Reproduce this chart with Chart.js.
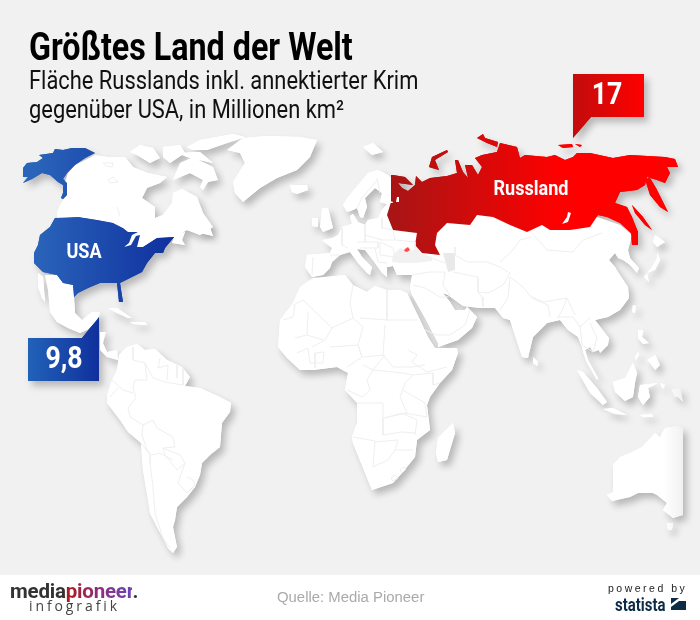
<!DOCTYPE html>
<html lang="de">
<head>
<meta charset="utf-8">
<title>Größtes Land der Welt</title>
<script src="https://cdn.jsdelivr.net/npm/chart.js@4/dist/chart.umd.min.js"></script>
<style>
  html, body { margin: 0; padding: 0; background: #f1f1f1; }
  #page { position: relative; width: 700px; height: 620px; overflow: hidden; font-family: Roboto, sans-serif; }
  #footer { position: absolute; left: 0; top: 575px; width: 700px; height: 45px; background: #fff; }
  #myChart { position: absolute; left: 0; top: 0; }
  .t { position: absolute; white-space: nowrap; transform-origin: 0 0; color: #000; }
  #title { left: 29px; top: 24px; font-size: 39px; font-weight: 700; line-height: 46px; transform: scaleX(.827); }
  .sub { left: 29px; font-size: 25.5px; line-height: 30px; transform: scaleX(.858); color: #111; }
  #sub1 { top: 65px; }
  #sub2 { top: 94px; }
  #source { left: 277px; top: 589px; font: 14.9px "Liberation Sans", sans-serif; color: #aaa; }
  #logo { left: 10px; top: 578px; font: 700 20.5px/26px Roboto, sans-serif; color: #333; letter-spacing: -.2px; }
  #logo b { background: linear-gradient(90deg, #b01818, #8a2f86 55%, #6a45b0); -webkit-background-clip: text; background-clip: text; color: transparent; font-weight: 700; }
  #logoSub { left: 29px; top: 597px; font: 14px/18px "Open Sans", sans-serif; color: #444; letter-spacing: 2.9px; }
  #powered { left: 608px; top: 582px; font: 10.5px/13px "Liberation Sans", sans-serif; color: #222; letter-spacing: 2.5px; }
  #statista { left: 615px; top: 595px; font: 700 18px/20px Roboto, sans-serif; color: #0d2b45; transform: scaleX(.83); }
  #statistaIcon { position: absolute; left: 671px; top: 598px; }
</style>
</head>
<body>
<div id="page">
  <div id="footer"></div>
  <canvas id="myChart" width="700" height="620"></canvas>
  <div class="t" id="title">Größtes Land der Welt</div>
  <div class="t sub" id="sub1">Fläche Russlands inkl. annektierter Krim</div>
  <div class="t sub" id="sub2">gegenüber USA, in Millionen km²</div>
  <div class="t" id="logo">media<b>pioneer</b>.</div>
  <div class="t" id="logoSub">infografik</div>
  <div class="t" id="source">Quelle: Media Pioneer</div>
  <div class="t" id="powered">powered by</div>
  <div class="t" id="statista">statista</div>
  <svg id="statistaIcon" width="15" height="12"><rect width="15" height="12" fill="#0d2b45"/><path d="M0 9 L8 3 L15 3 L15 0 L8 0 L0 6Z" fill="#fff"/></svg>
</div>
<script>
// values from the callouts, million km2
const countries = ['USA', 'Russland'];
const areaValues = [9.8, 17];

// outlines, in map units (700 x 620)
const alaska = [[23,168],[27,163],[37,162],[43,158],[39,155],[53,153],[55,149],[63,150],[72,148],[85,148],[95,153],[85,158],[75,165],[67,173],[63,179],[67,183],[67,195],[63,199],[61,198],[63,193],[63,185],[58,182],[50,175],[42,173],[32,179],[23,183],[28,177],[23,177]];
const usa = [[55,218],[78,217],[97,220],[113,223],[123,228],[128,232],[138,232],[132,235],[129,243],[124,247],[131,245],[136,236],[140,235],[137,247],[143,247],[157,238],[174,237],[165,248],[163,253],[155,253],[147,263],[142,272],[132,277],[120,283],[123,302],[119,302],[117,283],[110,283],[100,283],[88,288],[78,293],[74,297],[73,285],[63,283],[57,275],[43,272],[34,263],[34,253],[38,245],[40,235],[50,227]];
const canada = [[57,213],[60,205],[63,200],[67,195],[65,182],[68,173],[75,165],[95,155],[107,157],[125,157],[133,167],[148,173],[167,177],[160,183],[147,188],[142,198],[155,207],[155,218],[163,215],[172,203],[173,193],[182,189],[197,197],[203,213],[213,227],[200,235],[187,230],[174,237],[157,238],[143,247],[124,249],[128,235],[113,223],[97,220],[78,217],[57,219]];
const novaScotia = [[175,235],[185,232],[182,240],[185,245],[172,243]];
const newfoundland = [[200,233],[208,222],[213,236]];
const baffin = [[180,163],[193,157],[203,162],[213,167],[218,180],[208,182],[203,190],[200,187],[203,180],[190,173],[173,180]];
const victoria = [[130,152],[140,145],[153,148],[160,158],[150,163],[137,155]];
const banks = [[163,147],[180,145],[185,153],[170,163],[163,157]];
const ellesmere = [[200,140],[233,134],[245,137],[227,143],[207,150],[193,150],[187,147]];
const devon = [[177,153],[200,152],[213,163],[190,158]];
const greenland = [[227,150],[243,138],[267,136],[300,137],[317,140],[310,157],[297,170],[277,178],[260,188],[243,202],[235,193],[233,182],[245,163],[240,153]];
const iceland = [[290,185],[307,185],[308,190],[297,194],[292,192]];
const mexico = [[45,275],[57,275],[63,283],[73,285],[74,297],[75,313],[82,320],[92,312],[100,312],[98,320],[87,330],[80,333],[68,328],[57,322],[50,312],[48,290]];
const baja = [[38,273],[43,277],[45,302],[42,298],[38,287]];
const centralAmerica = [[100,332],[106,332],[103,343],[107,352],[117,350],[118,360],[107,357],[100,350]];
const cuba = [[108,308],[117,308],[132,318],[128,318],[117,313]];
const hispaniola = [[130,322],[145,322],[147,325],[133,324]];
const southAmerica = [[119,355],[127,347],[137,344],[145,350],[155,349],[167,360],[182,367],[190,377],[185,386],[200,388],[220,397],[231,403],[230,412],[222,423],[220,447],[210,455],[202,463],[200,475],[195,487],[187,497],[177,507],[175,520],[173,527],[177,547],[173,553],[168,548],[163,538],[157,527],[150,513],[148,500],[143,470],[141,443],[128,432],[120,420],[107,403],[107,395],[112,380],[117,370]];
const africa = [[300,287],[313,278],[345,275],[353,285],[367,292],[375,286],[387,290],[400,290],[407,293],[420,320],[428,337],[435,348],[457,348],[458,353],[452,370],[440,383],[430,397],[427,405],[430,430],[417,440],[415,457],[402,473],[393,483],[372,490],[365,473],[353,443],[352,437],[357,423],[357,403],[345,390],[348,373],[337,367],[313,370],[300,370],[287,358],[278,347],[280,320],[293,303]];
const madagascar = [[453,423],[455,433],[447,460],[438,462],[436,453],[438,438]];
const eurasia = [[412,295],[425,318],[438,343],[438,347],[458,340],[472,328],[477,317],[467,307],[465,310],[455,310],[450,302],[443,293],[448,295],[463,306],[480,308],[495,308],[503,318],[510,320],[522,357],[528,358],[533,337],[547,323],[560,320],[568,330],[578,337],[582,347],[583,352],[587,363],[597,380],[598,378],[588,360],[585,350],[590,347],[593,352],[599,350],[600,353],[608,345],[609,338],[595,320],[608,317],[620,310],[629,298],[628,287],[618,272],[615,267],[609,260],[615,253],[618,258],[623,260],[630,265],[637,273],[639,268],[630,258],[628,250],[630,243],[632,235],[620,225],[600,218],[540,200],[420,200],[400,190],[391,178],[388,175],[378,170],[368,173],[358,185],[348,197],[343,205],[347,212],[353,210],[357,208],[360,217],[363,218],[367,207],[365,198],[375,188],[382,193],[380,202],[387,204],[382,210],[378,218],[368,220],[365,225],[358,222],[353,214],[350,216],[352,224],[342,227],[338,235],[332,238],[322,240],[332,248],[330,253],[307,255],[305,267],[312,277],[323,275],[330,268],[332,262],[340,255],[350,252],[358,263],[367,273],[370,275],[372,267],[362,257],[357,249],[365,250],[375,263],[382,273],[387,277],[387,267],[393,266],[397,275],[412,275],[410,288]];
const britain = [[322,208],[328,208],[333,228],[323,232],[320,227]];
const ireland = [[312,218],[318,218],[318,227],[312,226]];
const svalbard = [[363,147],[373,143],[383,152],[372,155]];
const hokkaido = [[655,235],[665,242],[657,247],[653,242]];
const honshu = [[657,252],[660,260],[655,270],[647,273],[649,282],[644,277],[652,267],[657,258]];
const taiwan = [[633,305],[636,306],[635,313],[632,312]];
const luzon = [[638,330],[643,330],[642,337],[649,343],[643,344],[638,338]];
const sriLanka = [[533,357],[538,362],[537,366],[533,363]];
const sumatra = [[577,370],[583,372],[597,388],[607,402],[603,405],[590,393]];
const java = [[603,409],[613,408],[627,415],[615,414]];
const borneo = [[613,382],[625,378],[633,363],[637,373],[635,383],[633,397],[625,401],[615,392]];
const sulawesi = [[640,385],[658,383],[648,388],[650,397],[643,405],[638,397]];
const mindanao = [[647,360],[655,355],[660,365],[655,370],[650,363]];
const palawan = [[635,357],[638,352],[639,355],[636,360]];
const halmahera = [[660,383],[665,385],[663,389]];
const sunda = [[640,415],[652,414],[653,417],[643,417]];
const newGuinea = [[672,390],[680,388],[683,402],[678,397],[675,397]];
const australia = [[613,465],[620,457],[632,452],[642,447],[655,433],[660,437],[665,428],[677,426],[683,428],[683,515],[673,518],[663,510],[667,503],[657,495],[653,493],[638,493],[630,497],[612,501],[607,495],[613,492]];
const tasmania = [[667,523],[673,523],[672,530],[668,530]];
const blackSea = [[392,262],[393,255],[400,248],[410,252],[417,247],[420,253],[432,257],[432,261],[415,263],[400,263]];
const caspian = [[443,253],[455,253],[455,270],[448,272]];
const russia = [[391,175],[393,175],[405,177],[413,185],[398,183],[402,188],[408,191],[415,185],[416,176],[422,182],[430,178],[447,176],[457,173],[455,160],[458,160],[463,172],[468,178],[465,165],[472,165],[478,175],[482,167],[475,158],[482,155],[497,152],[500,143],[517,147],[520,158],[525,155],[547,157],[555,155],[565,160],[573,157],[577,153],[590,153],[613,158],[630,155],[665,157],[675,159],[678,167],[667,167],[670,173],[665,183],[657,180],[647,177],[645,185],[637,190],[620,192],[615,203],[627,207],[632,217],[638,232],[638,245],[632,245],[631,233],[620,223],[607,217],[598,215],[590,227],[570,230],[550,230],[542,225],[527,232],[510,225],[493,217],[477,215],[470,225],[447,223],[437,233],[435,245],[440,255],[422,253],[415,245],[417,233],[393,230],[387,215],[391,202]];
const kamchatka = [[645,179],[650,178],[656,188],[668,212],[660,207],[650,195]];
const sakhalin = [[632,205],[643,217],[652,230],[645,225],[635,213]];
const novayaZemlya = [[429,167],[432,157],[447,150],[448,152],[435,160],[439,170],[432,168]];
const severnaya = [[477,138],[483,134],[485,138],[498,142],[497,147],[487,143]];
const newSiberia1 = [[558,145],[572,144],[573,147],[563,148]];
const newSiberia2 = [[575,144],[582,145],[580,147]];
const baikal = [[568,212],[571,213],[568,222],[562,224],[567,217]];
const ladoga = [[397,197],[399,197],[399,202],[396,202]];
const onega = [[392,201],[393,203],[390,203]];
const crimea = [[405,249],[408,247],[410,250],[407,252],[404,251]];
const calloutRussia = [[573,74],[644,74],[644,117],[591,117],[573,138]];
const calloutUsa = [[28,338],[82,338],[99,317],[99,381],[28,381]];

// country borders, same map units
const borders = [
  [[133,347],[133,360],[145,363],[147,380],[135,380],[133,388],[136,398],[128,408],[130,417],[140,423],[143,425],[153,420],[157,428],[173,437],[175,447],[163,448],[180,455],[185,463],[180,477]],
  [[112,380],[123,390],[133,393]], [[110,397],[118,388]],
  [[141,443],[150,455],[150,463],[153,487],[155,513],[163,538],[170,548]],
  [[143,425],[142,435],[147,450],[152,455],[160,453],[173,460]],
  [[163,448],[165,455],[177,470],[185,463]],
  [[180,477],[178,483],[187,493],[195,485],[193,480],[187,477]],
  [[160,358],[158,368],[168,365],[167,380]], [[177,365],[177,378]], [[183,368],[183,385]], [[145,363],[153,378],[165,382],[183,385]],
  [[303,300],[332,328],[353,318],[350,303],[353,285]],
  [[293,305],[303,300]], [[283,320],[293,317],[295,305]], [[308,312],[307,335],[323,340]], [[295,338],[307,335]],
  [[332,328],[325,340],[312,347]],
  [[387,290],[387,320],[360,318]], [[387,320],[417,320]],
  [[353,318],[363,327],[358,345],[362,357]],
  [[385,325],[383,355],[363,357]], [[383,355],[393,367],[412,367],[425,365]],
  [[408,350],[417,355],[412,362],[427,372],[447,367]],
  [[330,347],[358,345],[362,357],[347,367]],
  [[308,348],[310,363],[323,363],[324,352],[315,353],[315,368]], [[297,353],[308,348]],
  [[363,365],[373,370],[385,355]], [[373,370],[367,380],[370,390],[362,397],[347,390]],
  [[373,370],[403,373],[413,375],[405,383],[400,397],[407,413],[383,418],[383,403],[357,403]],
  [[413,375],[433,373],[433,385],[440,383]], [[403,390],[425,403],[427,417],[405,413]],
  [[383,418],[383,435],[402,432],[415,433]], [[353,437],[375,441],[373,467]],
  [[375,442],[398,440],[395,450],[413,450]], [[395,450],[388,460],[373,467]],
  [[385,418],[402,413],[417,420],[415,435]],
  [[391,478],[395,475],[398,478],[393,481],[391,478]], [[400,470],[404,467],[406,469],[402,473],[400,470]],
  [[455,247],[455,255],[467,262],[487,262],[500,267],[508,272]],
  [[532,237],[520,240],[513,250],[500,262]],
  [[532,233],[547,250],[573,252],[583,240],[602,233]],
  [[412,275],[430,272],[445,272]], [[445,272],[443,285],[450,295],[447,297]],
  [[413,285],[425,288],[440,297],[447,297]], [[425,330],[437,335],[450,335],[465,325],[470,310]],
  [[453,272],[478,277],[478,292],[482,297],[483,307]],
  [[478,292],[488,293],[503,285],[508,277],[510,272]],
  [[500,310],[508,298],[510,277],[523,287],[532,298],[548,305],[550,317]],
  [[558,318],[563,308],[567,298]], [[532,297],[543,302],[567,298],[575,315]],
  [[557,317],[573,317],[580,327],[590,318]], [[580,325],[582,345],[593,352]], [[590,323],[597,338],[593,352]],
  [[342,228],[342,245],[348,248]], [[365,225],[365,242]],
  [[382,228],[393,230],[395,240],[382,240],[365,235]], [[382,218],[382,228]],
  [[395,240],[415,242],[415,248]], [[380,242],[393,248],[395,257],[380,255],[380,242]],
  [[357,242],[378,242],[378,248],[360,248]], [[375,248],[378,262],[387,263]],
  [[377,180],[362,198],[357,208]], [[377,178],[380,193]],
  [[313,257],[312,275]], [[330,255],[340,255]], [[432,258],[445,263]],
  [[103,163],[113,163],[112,167],[106,166],[103,163]], [[108,180],[113,177],[118,182],[110,183],[108,180]], [[117,207],[120,216]]
];

// on-map text
const labelTexts = [countries[0], countries[1], fmt(areaValues[1]), fmt(areaValues[0])];
const labelX = [84, 531, 607, 64];
const labelY = [253, 190, 96, 360];
const labelSize = [21, 21, 31, 31];

function fmt(v) {
  return String(v).replace('.', ',');
}

function land(points, extra) {
  return Object.assign({
    data: points.map(p => ({x: p[0], y: p[1]})),
    isRegion: true,
    showLine: false,
    pointRadius: 0,
    backgroundColor: '#fff',
    shadow: true
  }, extra);
}

const blue = {from: 35, to: 175, stops: ['#2a64ba', '#0f2f9e']};
const red = {from: 388, to: 560, stops: ['#a61515', '#ff0000']};
const fade = {from: 664, to: 683, stops: ['#ffffff', '#f1f1f1']};

const regions = [
  land(canada), land(novaScotia), land(newfoundland), land(baffin), land(victoria), land(banks),
  land(ellesmere), land(devon), land(greenland), land(iceland), land(mexico), land(baja),
  land(centralAmerica), land(cuba), land(hispaniola), land(southAmerica), land(africa), land(madagascar),
  land(eurasia), land(britain), land(ireland), land(svalbard), land(hokkaido), land(honshu), land(taiwan),
  land(luzon), land(sriLanka), land(sumatra), land(java), land(borneo), land(sulawesi), land(mindanao),
  land(palawan), land(halmahera), land(sunda), land(newGuinea, {gradient: fade}),
  land(australia, {gradient: fade}), land(tasmania, {gradient: fade}),
  land(blackSea, {backgroundColor: '#f1f1f1', shadow: false}),
  land(caspian, {backgroundColor: '#e9e9e9', shadow: false}),
  land(alaska, {gradient: blue}), land(usa, {gradient: blue}),
  land(russia, {gradient: red}), land(kamchatka, {gradient: red}), land(sakhalin, {gradient: red}),
  land(novayaZemlya, {gradient: red}), land(severnaya, {gradient: red}),
  land(newSiberia1, {gradient: red}), land(newSiberia2, {gradient: red}),
  land(baikal, {shadow: false}), land(ladoga, {shadow: false}), land(onega, {shadow: false}),
  land(crimea, {backgroundColor: '#ff4a4a', shadow: false}),
  land(calloutRussia, {gradient: {from: 573, to: 644, stops: ['#c20c0c', '#ff0000']}}),
  land(calloutUsa, {gradient: {from: 28, to: 99, stops: ['#2262b8', '#10309c']}})
];

const borderSets = borders.map(line => ({
  data: line.map(p => ({x: p[0], y: p[1]})),
  showLine: true,
  pointRadius: 0,
  borderColor: '#efefef',
  borderWidth: 1,
  fill: false
}));

function paintFor(chart, ds) {
  if (!ds.gradient) return ds.backgroundColor;
  const xs = chart.scales.x;
  const g = chart.ctx.createLinearGradient(xs.getPixelForValue(ds.gradient.from), 0, xs.getPixelForValue(ds.gradient.to), 0);
  g.addColorStop(0, ds.gradient.stops[0]);
  g.addColorStop(1, ds.gradient.stops[1]);
  return g;
}

function fillRegion(chart, index, ds) {
  const ctx = chart.ctx;
  const pts = chart.getDatasetMeta(index).data;
  ctx.beginPath();
  pts.forEach((el, j) => j ? ctx.lineTo(el.x, el.y) : ctx.moveTo(el.x, el.y));
  ctx.closePath();
  ctx.fillStyle = paintFor(chart, ds);
  ctx.fill();
}

// the library has no closed polygon fill, so fill from the scaled points
const regionPlugin = {
  id: 'regionPlugin',
  beforeDatasetsDraw(chart) {
    const ctx = chart.ctx;
    const sets = chart.data.datasets;
    ctx.save();
    ctx.shadowColor = 'rgba(0,0,0,0.24)';
    ctx.shadowBlur = 7;
    ctx.shadowOffsetX = 4;
    ctx.shadowOffsetY = 5;
    sets.forEach((ds, i) => { if (ds.isRegion && ds.shadow) fillRegion(chart, i, ds); });
    ctx.restore();
    sets.forEach((ds, i) => { if (ds.isRegion) fillRegion(chart, i, ds); });
  },
  afterDatasetsDraw(chart) {
    const ctx = chart.ctx;
    labelTexts.forEach((text, i) => {
      ctx.save();
      ctx.translate(chart.scales.x.getPixelForValue(labelX[i]), chart.scales.y.getPixelForValue(labelY[i]));
      ctx.scale(0.86, 1);
      ctx.font = '700 ' + labelSize[i] + 'px Roboto';
      ctx.fillStyle = '#fff';
      ctx.textAlign = 'center';
      ctx.textBaseline = 'middle';
      ctx.fillText(text, 0, 0);
      ctx.restore();
    });
  }
};

new Chart('myChart', {
  type: 'scatter',
  data: {datasets: regions.concat(borderSets)},
  options: {
    responsive: false,
    animation: false,
    events: [],
    layout: {padding: 0},
    plugins: {legend: {display: false}, tooltip: {enabled: false}, title: {display: false}},
    scales: {
      x: {type: 'linear', min: 0, max: 700, display: false},
      y: {type: 'linear', min: 0, max: 620, reverse: true, display: false}
    }
  },
  plugins: [regionPlugin]
});
</script>
</body>
</html>
